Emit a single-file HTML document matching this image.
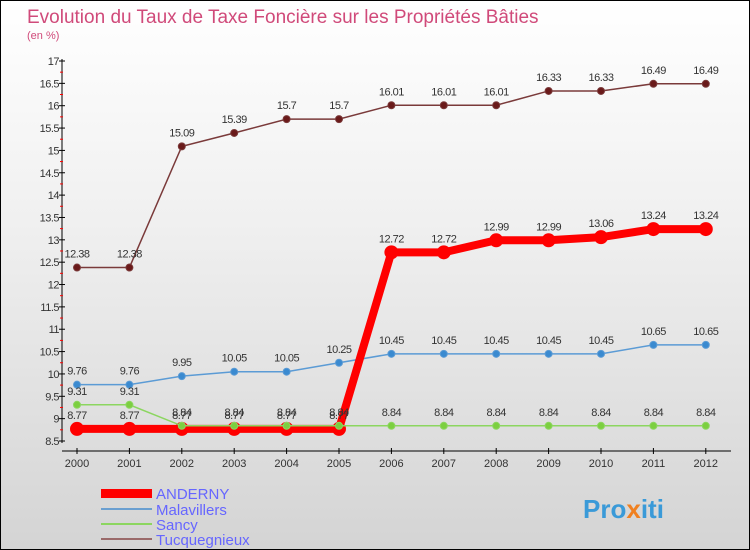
<!DOCTYPE html>
<html><head><meta charset="utf-8"><style>
body{margin:0}
#c{width:748px;height:548px;border:1px solid #000;background:linear-gradient(#fff,#f0f0f0 40%,#d4d4d4);position:relative;font-family:"Liberation Sans",sans-serif;overflow:hidden}
</style></head><body>
<div id="c">
<svg id="s" width="748" height="548" xmlns="http://www.w3.org/2000/svg" font-family="Liberation Sans, sans-serif">
<text x="26" y="22" font-size="19" fill="#d04a7a">Evolution du Taux de Taxe Foncière sur les Propriétés Bâties</text>
<text x="26" y="38" font-size="11" fill="#d04a7a">(en %)</text>
<g id="axes"></g><g id="series"></g>
<g>
<rect x="100" y="488" width="51" height="9" fill="#f00"/><text x="155" y="498" font-size="15" fill="#6666ff">ANDERNY</text>
<line x1="100" y1="508" x2="151" y2="508" stroke="#6a9fd0" stroke-width="2"/><text x="155" y="514" font-size="15" fill="#6666ff">Malavillers</text>
<line x1="100" y1="523" x2="151" y2="523" stroke="#8cd660" stroke-width="2"/><text x="155" y="529" font-size="15" fill="#6666ff">Sancy</text>
<line x1="100" y1="538" x2="151" y2="538" stroke="#9a6a6a" stroke-width="2"/><text x="155" y="544" font-size="15" fill="#6666ff">Tucquegnieux</text>
</g>
<text x="582" y="517" font-size="26" font-weight="bold" fill="#3a9ad8">Pro<tspan fill="#f08020">x</tspan>iti</text>
</svg></div>
<script>
const years=[2000,2001,2002,2003,2004,2005,2006,2007,2008,2009,2010,2011,2012];
const anderny=[8.77,8.77,8.77,8.77,8.77,8.77,12.72,12.72,12.99,12.99,13.06,13.24,13.24];
const malavillers=[9.76,9.76,9.95,10.05,10.05,10.25,10.45,10.45,10.45,10.45,10.45,10.65,10.65];
const sancy=[9.31,9.31,8.84,8.84,8.84,8.84,8.84,8.84,8.84,8.84,8.84,8.84,8.84];
const tucq=[12.38,12.38,15.09,15.39,15.7,15.7,16.01,16.01,16.01,16.33,16.33,16.49,16.49];
const yTicks=[8.5,9,9.5,10,10.5,11,11.5,12,12.5,13,13.5,14,14.5,15,15.5,16,16.5,17];
const NS="http://www.w3.org/2000/svg";
const X=i=>76+i*52.4, Y=v=>440-(v-8.5)/8.5*380;
function mk(t,a,p){const e=document.createElementNS(NS,t);for(const k in a)e.setAttribute(k,a[k]);p.appendChild(e);return e;}
const ax=document.getElementById('axes'),sg=document.getElementById('series');
let l=mk('line',{x1:61,y1:58,x2:61,y2:442,stroke:'#000'},ax);

l=mk('line',{x1:61,y1:450,x2:730,y2:450,stroke:'#000'},ax);

yTicks.forEach((v,k)=>{const y=Y(v);mk('line',{x1:58,y1:y,x2:64,y2:y,stroke:'#000'},ax);
if(k<yTicks.length-1)mk('line',{x1:59,y1:y-11.2,x2:62,y2:y-11.2,stroke:'#f00'},ax);
const t=mk('text',{x:58,y:y+4,'font-size':11,'text-anchor':'end',fill:'#333','letter-spacing':'-0.5'},ax);t.textContent=v;
});
years.forEach((yr,i)=>{mk('line',{x1:X(i),y1:447,x2:X(i),y2:453,stroke:'#000'},ax);
const t=mk('text',{x:X(i),y:466,'font-size':11,'text-anchor':'middle',fill:'#333'},ax);t.textContent=yr;
});
function series(d,col,w,r,dot,name){const g=mk('g',{},sg);

mk('polyline',{points:d.map((v,i)=>X(i)+','+Y(v)).join(' '),fill:'none',stroke:col,'stroke-width':w},g);
d.forEach((v,i)=>{const c=mk('circle',{cx:X(i),cy:Y(v),r:r,fill:dot,stroke:col,'stroke-width':1},g);

const t=mk('text',{x:X(i),y:Y(v)-10,'font-size':11,'text-anchor':'middle',fill:'#333','letter-spacing':'-0.5'},g);t.textContent=v;});}
series(tucq,'#7a3a3a',1.5,3.5,'#6a1a1a','tucquegnieux');
series(malavillers,'#5b9bd5',1.5,3.5,'#3a8ad0','malavillers');
series(anderny,'#f00',8,6.5,'#f00','anderny');
series(sancy,'#8cd660',1.5,3.5,'#7ccf40','sancy');
</script>
</body></html>
